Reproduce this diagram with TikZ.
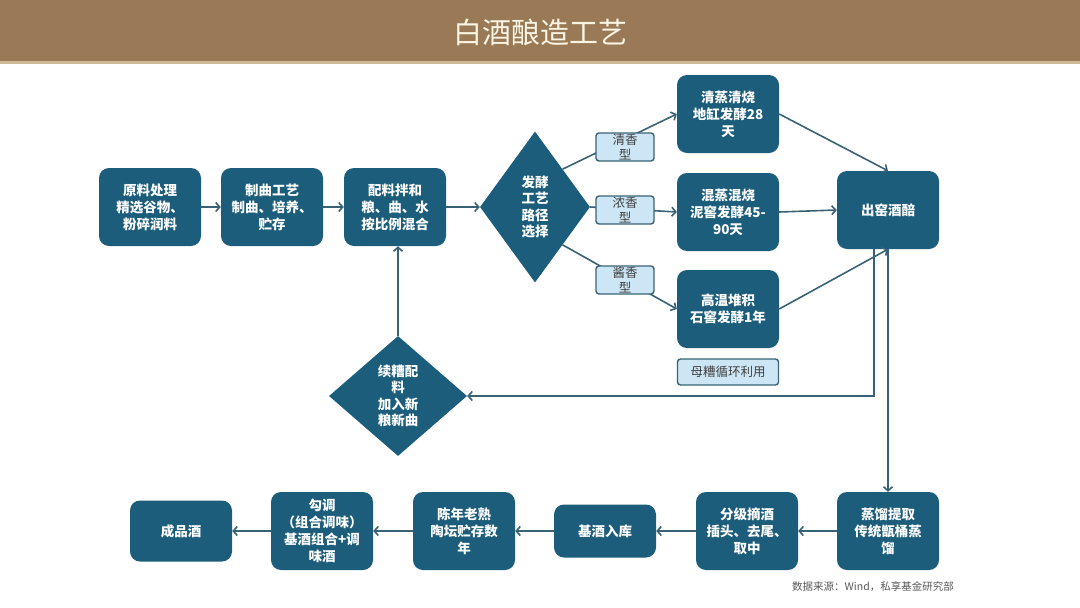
\documentclass[tikz,border=0pt]{standalone}
\usepackage{fontspec}
\setmainfont{Noto Sans CJK SC}
\usetikzlibrary{shapes.geometric,arrows.meta}
\definecolor{boxblue}{RGB}{27,93,123}
\definecolor{linec}{RGB}{58,98,118}
\definecolor{tagfill}{RGB}{205,230,245}
\definecolor{titlebrown}{RGB}{154,122,86}
\definecolor{tanline}{RGB}{205,185,150}
\definecolor{cream}{RGB}{250,244,228}
\begin{document}
\begin{tikzpicture}[x=1pt,y=-1pt,
    proc/.style={fill=boxblue, rounded corners=10pt, minimum width=102pt, minimum height=78pt,
      inner sep=2pt, text=white, align=center, font=\fontsize{13.5}{17}\selectfont\bfseries},
    dia/.style={diamond, fill=boxblue, inner sep=0pt, text=white, align=center,
      font=\fontsize{13.5}{16.5}\selectfont\bfseries},
    tag/.style={draw=linec, line width=1.4pt, fill=tagfill, rounded corners=3pt,
      minimum width=58pt, minimum height=28pt, inner sep=0pt},
    tagtxt/.style={align=center, text=black!75, font=\fontsize{12.5}{15}\selectfont},
    arr/.style={draw=linec, line width=1.6pt, -{Straight Barb[length=4pt,width=9pt]}}]
    \useasboundingbox (0,0) rectangle (1080,608);

    % Title band
    \fill[titlebrown] (0,0) rectangle (1080,61);
    \fill[tanline] (0,61) rectangle (1080,64);
    \node[text=cream, font=\fontsize{29}{32}\selectfont] (title) at (540,32) {白酒酿造工艺};

    % Top row
    \node[proc] (yl) at (150,207) {原料处理\\精选谷物、\\粉碎润料};
    \node[proc] (zq) at (272,207) {制曲工艺\\制曲、培养、\\贮存};
    \node[proc] (pl) at (395,207) {配料拌和\\粮、曲、水\\按比例混合};
    \node[dia, minimum width=110pt, minimum height=151pt] (fj) at (535,207) {发酵\\工艺\\路径\\选择};

    % Three fermentation routes
    \node[proc] (qz) at (728,114) {清蒸清烧\\地缸发酵28\\天};
    \node[proc] (hz) at (728,212) {混蒸混烧\\泥窖发酵45-\\90天};
    \node[proc] (gw) at (728,309) {高温堆积\\石窖发酵1年};
    \node[tag, minimum width=101pt, minimum height=26pt] (mz) at (728,372) {};
    \node[tagtxt] at (mz) {母糟循环利用};
    \node[proc] (cj) at (888,210) {出窑酒醅};

    % Recycling loop
    \node[dia, minimum width=138pt, minimum height=120pt] (xz) at (398,396) {续糟配\\料\\加入新\\粮新曲};

    % Bottom row
    \node[proc] (zl) at (888,531) {蒸馏提取\\传统甑桶蒸\\馏};
    \node[proc] (fz) at (747,531) {分级摘酒\\插头、去尾、\\取中};
    \node[proc, minimum height=53pt] (jk) at (605,531) {基酒入库};
    \node[proc] (cn) at (464,531) {陈年老熟\\陶坛贮存数\\年};
    \node[proc] (gt) at (322,531) {勾调\\（组合调味）\\基酒组合+调\\味酒};
    \node[proc, minimum height=61pt] (cp) at (181,531) {成品酒};

    % Connectors
    \draw[arr] (yl) -- (zq);
    \draw[arr] (zq) -- (pl);
    \draw[arr] (pl.east) -- (fj.west);
    \draw[arr] (fj.north east) -- (qz.west);
    \draw[arr] (fj.east) -- (hz.west);
    \draw[arr] (fj.south east) -- (gw.west);
    \draw[arr] (qz.east) -- (cj.north);
    \draw[arr] (hz.east) -- (cj.west);
    \draw[arr] (gw.east) -- (cj.south);
    \draw[arr] ([xshift=-14pt]cj.south) |- (xz.east);
    \draw[arr] (xz.north) -- (xz.north |- pl.south);
    \draw[arr] (cj.south) -- (zl.north);
    \draw[arr] (zl) -- (fz);
    \draw[arr] (fz) -- (jk);
    \draw[arr] (jk) -- (cn);
    \draw[arr] (cn) -- (gt);
    \draw[arr] (gt) -- (cp);

    % Route labels
    \node[tag] (tq) at (625,147) {};
    \node[tagtxt] at (tq) {清香\\型};
    \node[tag] (tn) at (625,210) {};
    \node[tagtxt] at (tn) {浓香\\型};
    \node[tag] (tj) at (625,280) {};
    \node[tagtxt] at (tj) {酱香\\型};

    % Source
    \node[text=black!65, font=\fontsize{10.5}{12}\selectfont] (src) at (873,587) {数据来源：Wind，私享基金研究部};
\end{tikzpicture}
\end{document}
